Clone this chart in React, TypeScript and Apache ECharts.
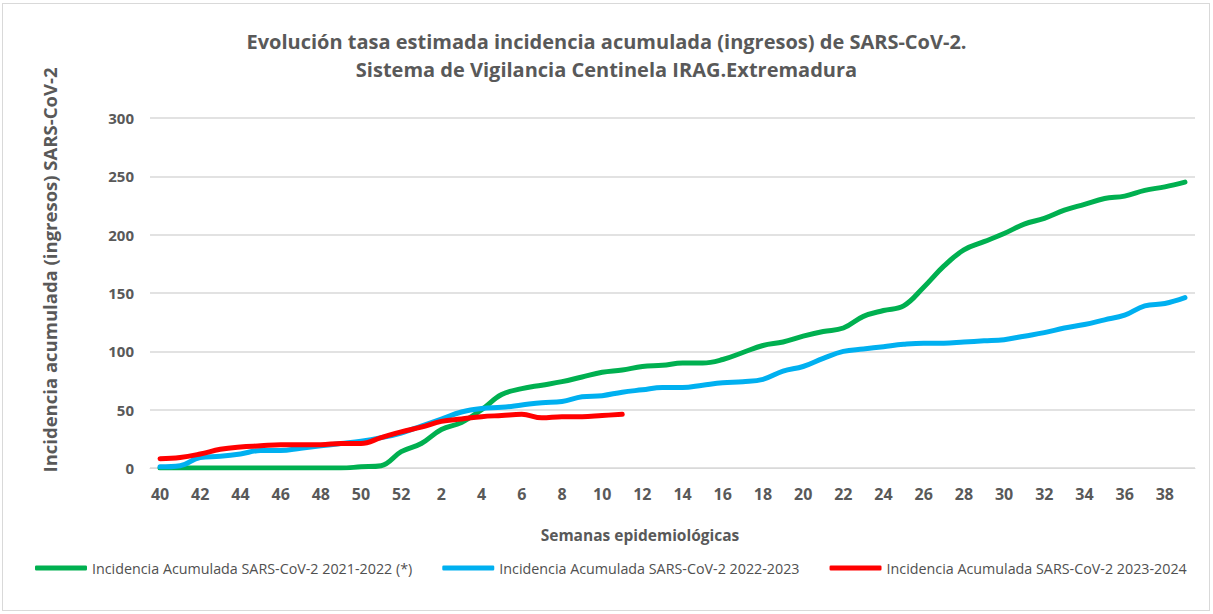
import React, { useEffect, useRef } from "react";
import * as echarts from "echarts";

const weeks: string[] = [
  "40","41","42","43","44","45","46","47","48","49","50","51","52",
  "1","2","3","4","5","6","7","8","9","10","11","12","13","14","15","16","17","18","19","20",
  "21","22","23","24","25","26","27","28","29","30","31","32","33","34","35","36","37","38","39",
];

const s2122: number[] = [
  0,0,0,0,0,0,0,0,0,0,1,2,14,
  21,33,39,50,63,68,71,74,78,82,84,87,88,90,90,93,99,105,108,113,
  117,120,130,135,139,155,173,187,194,201,209,214,221,226,231,233,238,241,245,
];

const s2223: number[] = [
  1,2,9,10,12,15,15,17,19,21,23,26,30,
  36,42,48,51,52,54,56,57,61,62,65,67,69,69,71,73,74,76,83,87,
  94,100,102,104,106,107,107,108,109,110,113,116,120,123,127,131,139,141,146,
];

const s2324: number[] = [
  8,9,12,16,18,19,20,20,20,21,21,26,31,
  35,40,42,44,45,46,43,44,44,45,46,
];

const names = [
  "Incidencia Acumulada SARS-CoV-2 2021-2022 (*)",
  "Incidencia Acumulada SARS-CoV-2 2022-2023",
  "Incidencia Acumulada SARS-CoV-2 2023-2024",
];
const colors = ["#00B050", "#00B0F0", "#FF0000"];
const titleText =
  "Evolución tasa estimada incidencia acumulada (ingresos) de SARS-CoV-2.\nSistema de Vigilancia Centinela IRAG.Extremadura";
const yName = "Incidencia acumulada (ingresos) SARS-CoV-2";
const xName = "Semanas epidemiológicas";

export default function App() {
  const ref = useRef<HTMLDivElement>(null);
  useEffect(() => {
    if (!ref.current) return;
    const chart = echarts.init(ref.current, null, { renderer: "svg" });
    const font = "'Open Sans', 'Noto Sans', sans-serif";
    const datasets = [s2122, s2223, s2324];
    chart.setOption({
      animation: false,
      backgroundColor: "#ffffff",
      textStyle: { fontFamily: font },
      title: {
        text: titleText,
        left: "center",
        top: 22,
        textStyle: {
          fontFamily: font,
          fontSize: 20,
          fontWeight: "bold",
          color: "#595959",
          lineHeight: 28,
        },
      },
      legend: {
        bottom: 34,
        left: 30,
        itemWidth: 52,
        itemHeight: 5,
        itemGap: 30,
        icon: "roundRect",
        textStyle: { fontFamily: font, fontSize: 14.3, color: "#505050" },
        data: names,
      },
      graphic: [
        {
          type: "text",
          x: 49,
          y: 270,
          rotation: Math.PI / 2,
          style: {
            text: yName,
            fontFamily: font,
            fontSize: 18.5,
            fontWeight: "bold",
            fill: "#595959",
            align: "center",
            verticalAlign: "middle",
          },
        },
        {
          type: "text",
          x: 640,
          y: 535,
          style: {
            text: xName,
            fontFamily: font,
            fontSize: 15.5,
            fontWeight: "bold",
            fill: "#595959",
            align: "center",
            verticalAlign: "middle",
          },
        },
      ],
      grid: { left: 150, right: 18, top: 118, bottom: 146, containLabel: false },
      xAxis: {
        type: "category",
        data: weeks,
        boundaryGap: true,
        axisLine: { lineStyle: { color: "#d9d9d9" } },
        axisTick: { show: false },
        axisLabel: {
          interval: 1,
          fontFamily: font,
          fontSize: 16,
          fontWeight: "bold",
          color: "#595959",
          margin: 18,
        },
      },
      yAxis: {
        type: "value",
        min: 0,
        max: 300,
        interval: 50,
        axisLine: { show: false },
        axisTick: { show: false },
        splitLine: { lineStyle: { color: "#d9d9d9", width: 1.5 } },
        axisLabel: {
          fontFamily: font,
          fontSize: 15,
          fontWeight: "bold",
          color: "#595959",
          margin: 16,
        },
      },
      series: datasets.map((d, i) => ({
        name: names[i],
        type: "line",
        data: d,
        smooth: 0.4,
        symbol: "none",
        lineStyle: { color: colors[i], width: 5, cap: "round" },
        itemStyle: { color: colors[i] },
        z: 3 + i,
      })),
    });
    return () => chart.dispose();
  }, []);
  return (
    <div
      style={{
        position: "absolute",
        left: 0,
        top: 0,
        width: 1213,
        height: 614,
      }}
    >
      <div
        ref={ref}
        style={{
          position: "absolute",
          left: 0,
          top: 0,
          width: 1213,
          height: 614,
        }}
      />
      <div
        style={{
          position: "absolute",
          left: 2,
          top: 3,
          width: 1208,
          height: 608,
          border: "1px solid #d9d9d9",
          boxSizing: "border-box",
          pointerEvents: "none",
        }}
      />
    </div>
  );
}
